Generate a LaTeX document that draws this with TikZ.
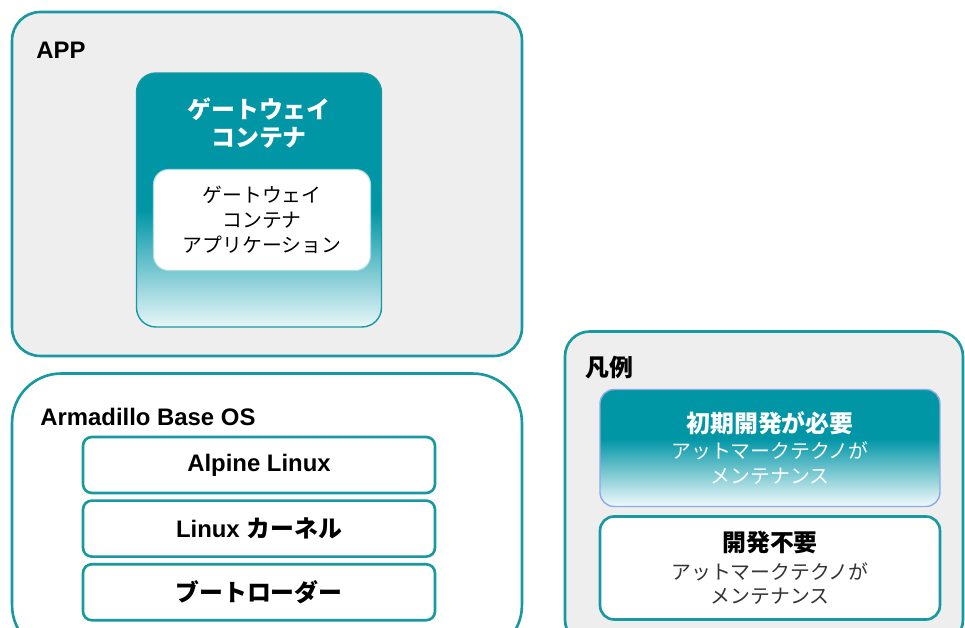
\documentclass[tikz,border=0pt]{standalone}
\usepackage{fontspec}
\setmainfont{Liberation Sans}
\newfontfamily\jp{Noto Sans CJK JP}
\usetikzlibrary{positioning}

\definecolor{tealline}{RGB}{24,152,160}
\definecolor{tealfill}{RGB}{0,150,166}
\definecolor{bggray}{RGB}{238,238,238}
\definecolor{legendline}{RGB}{140,170,230}
\definecolor{gwlow}{RGB}{232,246,248}
\definecolor{leglow}{RGB}{242,250,252}

% teal at the top, fading to white near the bottom
\pgfdeclareverticalshading{gwshade}{100bp}{color(0bp)=(gwlow); color(25bp)=(gwlow); color(48bp)=(tealfill); color(100bp)=(tealfill)}
\pgfdeclareverticalshading{legshade}{100bp}{color(0bp)=(leglow); color(25bp)=(leglow); color(54bp)=(tealfill); color(100bp)=(tealfill)}

\begin{document}
\begin{tikzpicture}[x=0.02cm, y=-0.02cm,
    group/.style={draw=tealline, line width=1.5pt, inner sep=0pt},
    grouplabel/.style={anchor=west, inner sep=0pt, font=\bfseries\fontsize{13.6}{16}\selectfont},
    layer/.style={draw=tealline, line width=1.5pt, rounded corners=5pt, fill=white,
      minimum width=7.04cm, minimum height=1.12cm, inner sep=0pt,
      font=\bfseries\fontsize{13.6}{16}\selectfont},
    legendbox/.style={rounded corners=8pt, line width=1.5pt, minimum width=6.8cm,
      inner sep=0pt, align=center, font=\jp\fontsize{11.3}{13.8}\selectfont}
  ]
    \useasboundingbox (0,0) rectangle (965,628);
    \clip (0,0) rectangle (965,628);

    % APP
    \node[group, fill=bggray, rounded corners=16pt, minimum width=10.2cm, minimum height=6.88cm] (app) at (267,184) {};
    \node[grouplabel] (applabel) at (36,50) {APP};

    % Gateway container
    \node[draw=tealline, line width=0.8pt, rounded corners=11pt, shading=gwshade,
      minimum width=4.9cm, minimum height=5.08cm] (gw) at (259,200) {};
    \node[text=white, align=center, font=\jp\bfseries\fontsize{13.6}{15.5}\selectfont] (gwtitle) at (259,123) {ゲートウェイ\\コンテナ};
    \node[draw=tealline!35, line width=0.6pt, fill=white, rounded corners=8.5pt,
      minimum width=4.34cm, minimum height=2.02cm, align=center,
      font=\jp\fontsize{11.3}{14.2}\selectfont] (gwapp) at (262,220) {ゲートウェイ\\コンテナ\\アプリケーション};

    % Armadillo Base OS
    \node[group, fill=white, rounded corners=28pt, minimum width=10.2cm, minimum height=5.62cm] (os) at (267,514) {};
    \node[grouplabel] (oslabel) at (40,417) {Armadillo Base OS};

    \node[layer] (alpine) at (259,465) {Alpine Linux};
    \node[layer, below=0.1cm of alpine] (kernel) {Linux {\jp カーネル}};
    \node[layer, below=0.1cm of kernel] (boot) {\jp ブートローダー};

    % Legend
    \node[group, fill=bggray, rounded corners=14pt, minimum width=7.96cm, minimum height=6.26cm] (legend) at (764,488) {};
    \node[grouplabel, font=\jp\bfseries\fontsize{13.6}{16}\selectfont] (legendlabel) at (585,368) {凡例};

    \node[legendbox, draw=legendline, line width=0.8pt, shading=legshade, minimum height=2.34cm, text=white] (devbox) at (770,448) {%
      {\fontsize{13.6}{15}\selectfont\bfseries 初期開発が必要}\\[1pt]
      アットマークテクノが\\メンテナンス};
    \node[legendbox, draw=tealline, fill=white, minimum height=2.06cm, text=black!80, below=0.16cm of devbox] (nodevbox) {%
      {\fontsize{13.6}{15}\selectfont\bfseries\color{black} 開発不要}\\[2pt]
      アットマークテクノが\\メンテナンス};
  \end{tikzpicture}
\end{document}
